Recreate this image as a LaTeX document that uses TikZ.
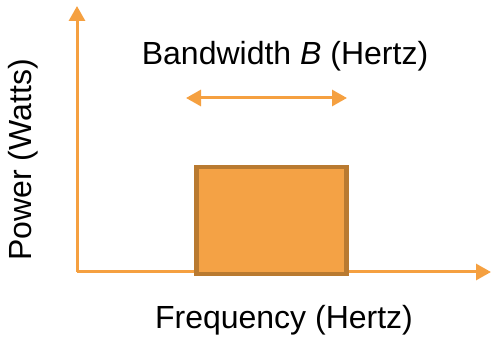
\documentclass[tikz,border=0pt]{standalone}
\usepackage{fontspec}
\setmainfont{Liberation Sans}
\usetikzlibrary{arrows.meta}
\definecolor{axis}{HTML}{F5A040}
\definecolor{boxfill}{HTML}{F4A245}
\definecolor{boxline}{HTML}{B97A30}
\tikzset{
  axisline/.style={draw=axis, line width=3pt, -{Triangle[width=16pt,length=15pt]}},
  bwarrow/.style={draw=axis, line width=3pt, {Triangle[width=16pt,length=15pt]}-{Triangle[width=16pt,length=15pt]}},
  lbl/.style={font=\fontsize{32}{38}\selectfont, inner sep=0pt},
  band/.style={draw=boxline, fill=boxfill, line width=4.5pt, minimum width=150pt, minimum height=107pt, inner sep=0pt}
}
\begin{document}
\begin{tikzpicture}[x=1pt,y=-1pt]
\useasboundingbox (0,0) rectangle (491,339);
\coordinate (o) at (77,272);
\coordinate (ytop) at (77,6);
\coordinate (xend) at (491,272);
\draw[axisline] (o) -- (ytop);
\draw[axisline] (o) -- (xend);
\node[band] (box) at (271.5,220.5) {};
\coordinate (bl) at (186,98);
\coordinate (br) at (347,98);
\draw[bwarrow] (bl) -- (br);
\node[lbl] (bw) at (285,56) {Bandwidth \textit{B} (Hertz)};
\node[lbl] (fx) at (284,320) {Frequency (Hertz)};
\node[lbl, rotate=90] (py) at (23,160) {Power (Watts)};
\end{tikzpicture}
\end{document}
